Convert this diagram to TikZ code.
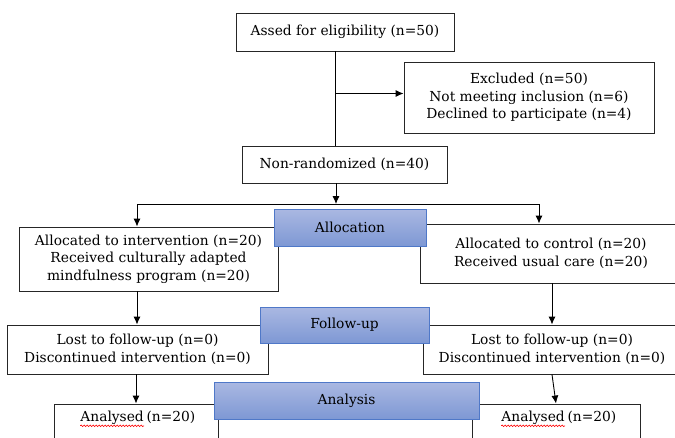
\documentclass[tikz,border=0pt]{standalone}
\usepackage{fontspec}
\setmainfont{DejaVu Serif}
\usetikzlibrary{calc,positioning,arrows.meta,decorations.pathmorphing}
\definecolor{phasetop}{RGB}{170,184,226}
\definecolor{phasebot}{RGB}{126,152,212}
\definecolor{phaseline}{RGB}{79,120,200}

\tikzset{
  box/.style={draw=black!85, line width=0.9pt, fill=white, align=center,
    inner sep=0pt, font=\fontsize{13.8}{17.5}\selectfont},
  phase/.style={draw=phaseline, line width=0.9pt, top color=phasetop,
    bottom color=phasebot, inner sep=0pt, font=\fontsize{13.8}{16}\selectfont},
  lbl/.style={inner sep=0pt, font=\fontsize{13.8}{16}\selectfont},
  squig/.style={red, line width=0.6pt, decorate,
    decoration={snake, amplitude=0.8pt, segment length=3pt}},
  link/.style={line width=0.9pt, -{Latex[length=8pt,width=7pt]}}
}

\begin{document}
\begin{tikzpicture}[x=1pt,y=-1pt]
\clip (0,0) rectangle (675,437);
\fill[white] (0,0) rectangle (675,437);

% enrolment
\node[box, minimum width=218, minimum height=38] (assess) at (345,32) {Assed for eligibility (n=50)};
\node[box, minimum width=250, minimum height=71] (excl) at (529,97.5)
    {Excluded (n=50)\\Not meeting inclusion (n=6)\\Declined to participate (n=4)};
\node[box, minimum width=205, minimum height=37] (nonrand) at (344.5,164.5) {Non-randomized (n=40)};
\coordinate (trunk) at (335,0);
\coordinate (split) at (336,204);
\coordinate (splitL) at (137,204);
\coordinate (splitR) at (539,204);

% groups
\node[box, minimum width=259, minimum height=64] (intv) at (148.5,259)
    {Allocated to intervention (n=20)\\Received culturally adapted\\mindfulness program (n=20)};
\node[box, minimum width=262, minimum height=59] (ctrl) at (551,253.5)
    {Allocated to control (n=20)\\Received usual care (n=20)};
\node[box, minimum width=261, minimum height=49] (lostL) at (137.5,349.5)
    {Lost to follow-up (n=0)\\Discontinued intervention (n=0)};
\node[box, minimum width=258, minimum height=49] (lostR) at (552,349.5)
    {Lost to follow-up (n=0)\\Discontinued intervention (n=0)};
\node[box, minimum width=164, minimum height=80] (anL) at (136,444) {};
\node[box, minimum width=168, minimum height=80] (anR) at (556,444) {};

\node[lbl, anchor=base east] (anLword) at ($(anL.north)+(8,18)$) {Analysed};
\node[lbl, anchor=base west] (anLn) at (anLword.base east) {\,(n=20)};
\node[lbl, anchor=base east] (anRword) at ($(anR.north)+(9,18)$) {Analysed};
\node[lbl, anchor=base west] (anRn) at (anRword.base east) {\,(n=20)};
\draw[squig] ([yshift=-1pt]anLword.south west) -- ([yshift=-1pt]anLword.south east);
\draw[squig] ([yshift=-1pt]anRword.south west) -- ([yshift=-1pt]anRword.south east);

% phases
\node[phase, minimum width=152, minimum height=37] (alloc) at (350,227.5) {Allocation};
\node[phase, minimum width=169, minimum height=36] (follow) at (344.5,325) {Follow-up};
\node[phase, minimum width=265, minimum height=37] (analysis) at (346.5,400.5) {Analysis};

% connectors
\draw[line width=0.9pt] (trunk |- assess.south) -- (trunk |- nonrand.north);
\draw[link] (trunk |- excl.west) ++(0,-4) -- ($(excl.west)+(0,-4)$);
\draw[link] (split |- nonrand.south) -- (split);
\draw[line width=0.9pt] (splitL) -- (splitR);
\draw[link] (splitL) -- (splitL |- intv.north);
\draw[link] (splitR) -- (splitR |- ctrl.north);
\draw[link] (splitL |- intv.south) -- (splitL |- lostL.north);
\draw[link] (lostR.north |- ctrl.south) -- (lostR.north);
\draw[link] (anL.north |- lostL.south) -- (anL.north);
\draw[link] (lostR.south) -- (anR.north);
\end{tikzpicture}
\end{document}
